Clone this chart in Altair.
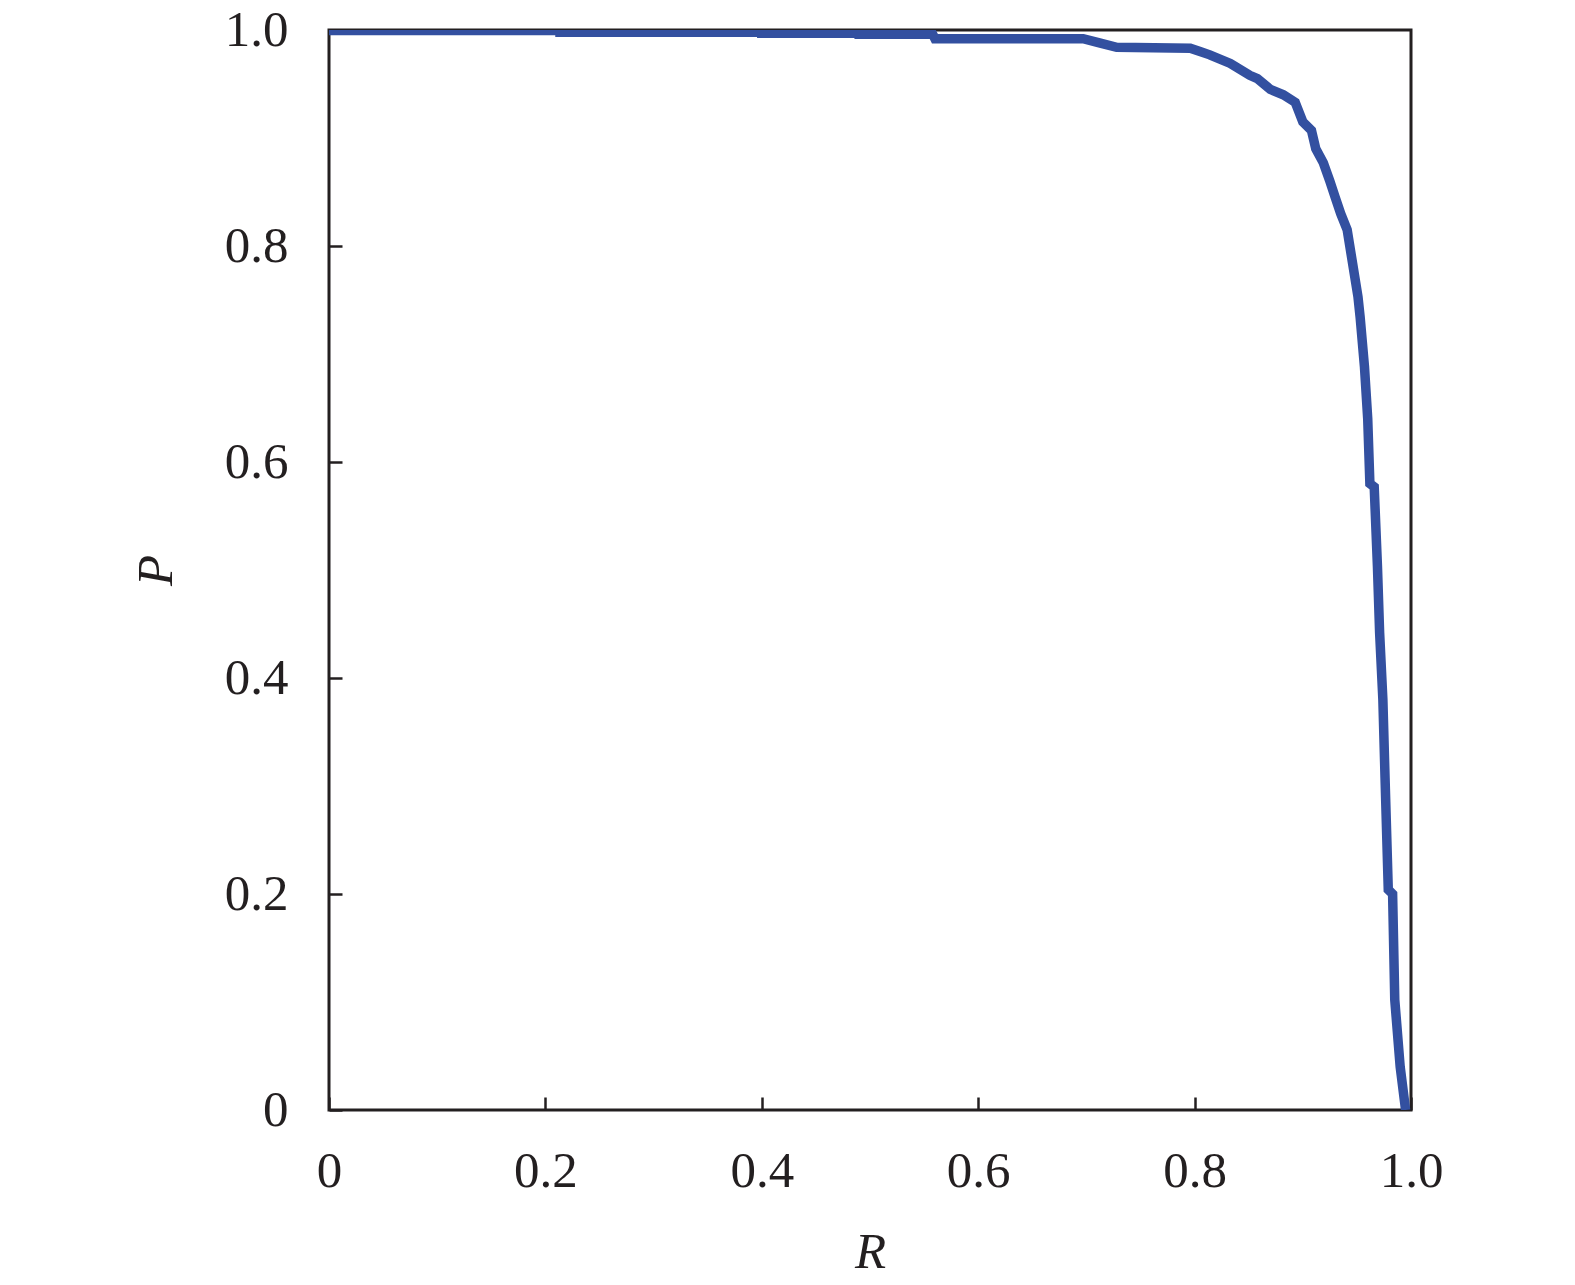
"""Precision-recall curve (P against R)."""

import altair as alt
import pandas as pd

RECALL = [
    0.000, 0.2135, 0.2135, 0.400, 0.400, 0.490, 0.490, 0.558, 0.560, 0.697,
    0.712, 0.728, 0.796, 0.805, 0.814, 0.833, 0.851, 0.858, 0.870, 0.882,
    0.893, 0.900, 0.908, 0.912, 0.919, 0.925, 0.930, 0.935, 0.941, 0.946,
    0.951, 0.953, 0.957, 0.960, 0.962, 0.966, 0.969, 0.971, 0.974, 0.976,
    0.979, 0.983, 0.985, 0.990, 0.995,
]
PRECISION = [
    0.9995, 0.9995, 0.998, 0.998, 0.997, 0.997, 0.996, 0.996, 0.992, 0.992,
    0.988, 0.984, 0.983, 0.980, 0.977, 0.969, 0.958, 0.955, 0.945, 0.940,
    0.933, 0.915, 0.907, 0.890, 0.877, 0.860, 0.845, 0.830, 0.815, 0.784,
    0.753, 0.734, 0.688, 0.640, 0.580, 0.577, 0.503, 0.442, 0.380, 0.308,
    0.204, 0.200, 0.102, 0.040, 0.000,
]
TICKS = [0, 0.2, 0.4, 0.6, 0.8, 1.0]

FONT = 'Liberation Serif'
INK = '#231f20'
LINE_COLOUR = '#3350a0'

data = pd.DataFrame({'R': RECALL, 'P': PRECISION, 'step': range(len(RECALL))})

label_expr = "datum.value == 0 ? '0' : format(datum.value, '.1f')"

common_axis = dict(
    values=TICKS, labelExpr=label_expr, grid=False, domain=False,
    tickSize=13, tickWidth=2.5, tickColor=INK, offset=-13,
    labelFont=FONT, labelFontSize=51, labelColor=INK, labelFlush=False,
    labelOverlap=False, titleFont=FONT, titleFontSize=51, titleFontStyle='italic',
    titleFontWeight='normal', titleColor=INK,
)

chart = alt.Chart(data).mark_line(color=LINE_COLOUR, strokeWidth=9.5, clip=True).encode(
    x=alt.X('R:Q', title='R', scale=alt.Scale(domain=[0, 1], nice=False, zero=False),
            axis=alt.Axis(labelPadding=36, titleY=130, titleBaseline='top', **common_axis)),
    y=alt.Y('P:Q', title='P', scale=alt.Scale(domain=[0, 1], nice=False, zero=False),
            axis=alt.Axis(labelPadding=41, titleX=-186, titleY=540, titleAngle=270,
                          titleBaseline='middle', **common_axis)),
    order='step:Q',
).properties(
    width=1082,
    height=1080,
    autosize=alt.AutoSizeParams(type='none'),
    padding={'left': 321, 'top': 22, 'right': 150, 'bottom': 170},
).configure_view(stroke=INK, strokeWidth=3)

chart.save("out.html", embed_options={"renderer": "svg", "actions": False})
